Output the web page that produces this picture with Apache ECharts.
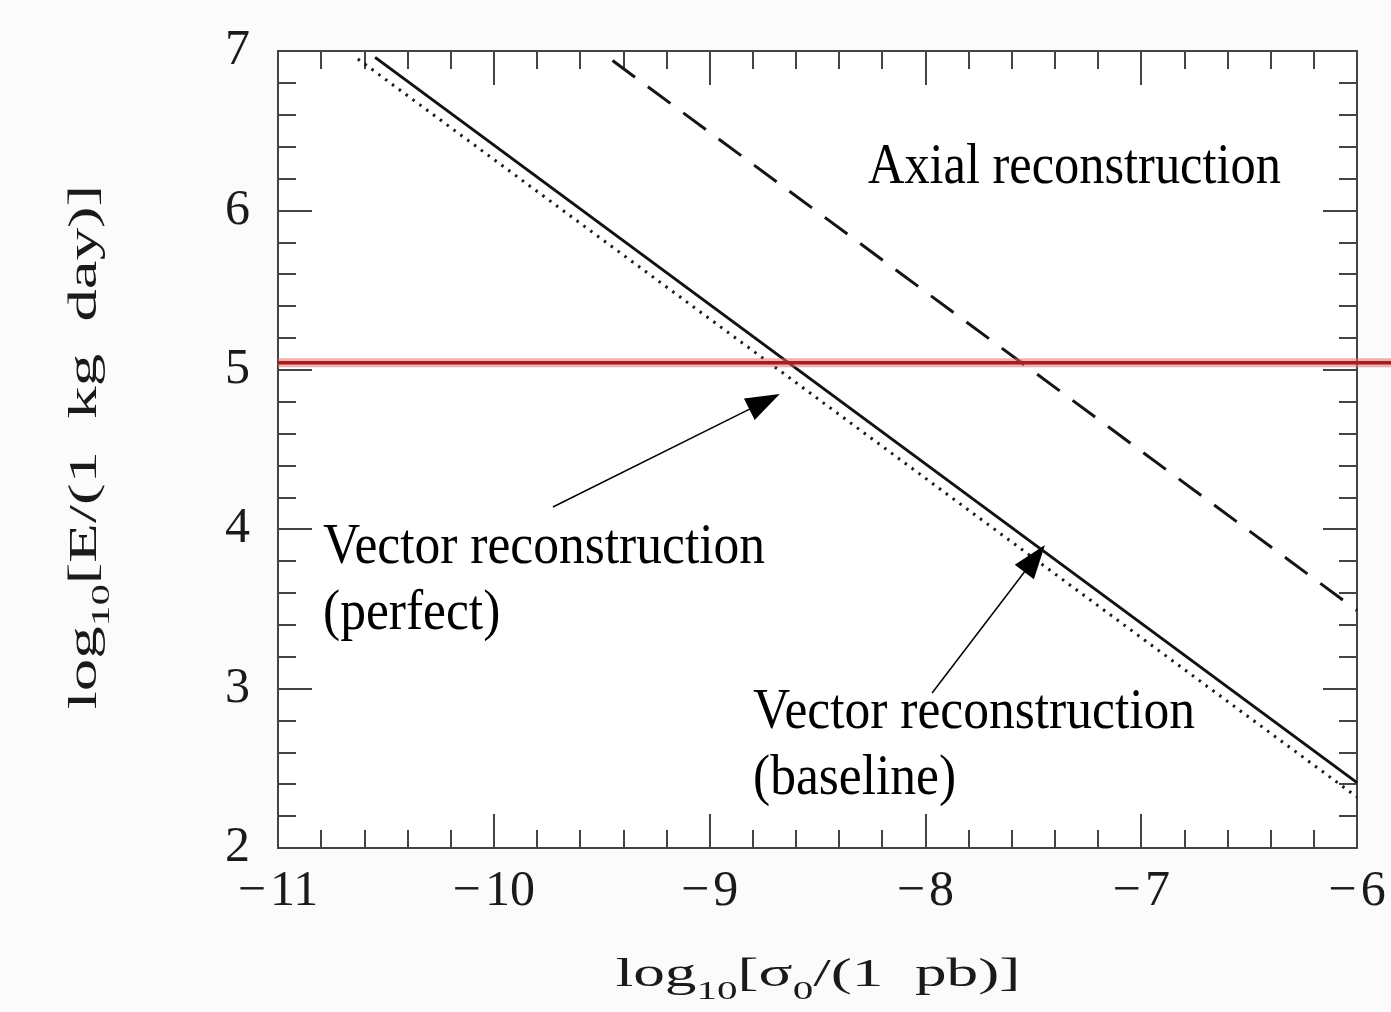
<!DOCTYPE html>
<html>
<head>
<meta charset="utf-8">
<script src="https://cdn.jsdelivr.net/npm/echarts@6/dist/echarts.min.js"></script>
<style>
html,body{margin:0;padding:0;background:#fbfbfb;}
#chart{width:1391px;height:1012px;}
</style>
</head>
<body>
<div id="chart"></div>
<script>
// ---- data (log10 sigma0 [pb], log10 exposure [kg day]) ----
var xTicks = [-11, -10, -9, -8, -7, -6];
var yTicks = [2, 3, 4, 5, 6, 7];
var vectorBaseline = [[-10.55, 6.96], [-6.0, 2.41]];   // solid
var vectorPerfect  = [[-10.63, 6.95], [-6.0, 2.32]];   // dotted
var axialRecon     = [[-9.45, 6.94], [-6.0, 3.49]];    // dashed
var exposureLevel  = 5.045;                            // red horizontal line
var exposureFrom   = -11;
var exposureTo     = -5.84;
// arrows: [tailX, tailY, tipX, tipY]
var arrowPerfect   = [-9.726, 4.139, -8.675, 4.848];
var arrowBaseline  = [-7.969, 2.972, -7.446, 3.901];

var axisColor = '#444';
var serif = '"Liberation Serif", "Times New Roman", serif';

function fmt(v){ return v < 0 ? '\u2212\u200A' + Math.abs(v) : String(v); }

var chart = echarts.init(document.getElementById('chart'), null, {renderer:'canvas'});

function xAx(pos, showLabel){
  return {
    type:'value', position:pos, min:xTicks[0], max:xTicks[xTicks.length-1], interval:1,
    axisLine:{show:true, onZero:false, lineStyle:{color:axisColor, width:2}},
    axisTick:{show:true, inside:true, length:34, lineStyle:{color:axisColor, width:2}},
    minorTick:{show:true, splitNumber:5, length:18, lineStyle:{color:axisColor, width:2}},
    splitLine:{show:false}, minorSplitLine:{show:false},
    axisLabel:{show:showLabel, formatter:fmt, fontFamily:serif, fontSize:50, color:'#1a1a1a', margin:19}
  };
}
function yAx(pos, showLabel){
  return {
    type:'value', position:pos, min:yTicks[0], max:yTicks[yTicks.length-1], interval:1,
    axisLine:{show:true, onZero:false, lineStyle:{color:axisColor, width:2}},
    axisTick:{show:true, inside:true, length:34, lineStyle:{color:axisColor, width:2}},
    minorTick:{show:true, splitNumber:5, length:18, lineStyle:{color:axisColor, width:2}},
    splitLine:{show:false}, minorSplitLine:{show:false},
    axisLabel:{show:showLabel, formatter:fmt, fontFamily:serif, fontSize:50, color:'#1a1a1a', margin:28}
  };
}

function renderArrow(params, api){
  var p1 = api.coord([api.value(0), api.value(1)]);
  var p2 = api.coord([api.value(2), api.value(3)]);
  var dx = p2[0]-p1[0], dy = p2[1]-p1[1];
  var L = Math.sqrt(dx*dx+dy*dy); var ux = dx/L, uy = dy/L;
  var hl = 34, hw = 12;
  var bx = p2[0]-ux*hl, by = p2[1]-uy*hl;
  return {type:'group', children:[
    {type:'line', shape:{x1:p1[0], y1:p1[1], x2:bx+ux*2, y2:by+uy*2}, style:{stroke:'#000', lineWidth:1.5}},
    {type:'polygon', shape:{points:[[p2[0],p2[1]], [bx-uy*hw, by+ux*hw], [bx+uy*hw, by-ux*hw]]}, style:{fill:'#000'}}
  ]};
}
function renderRule(params, api){
  var p1 = api.coord([api.value(0), api.value(1)]);
  var p2 = api.coord([api.value(2), api.value(3)]);
  return {type:'group', children:[
    {type:'line', shape:{x1:p1[0], y1:p1[1], x2:p2[0], y2:p2[1]},
     style:{stroke:'rgba(235,110,110,0.55)', lineWidth:9}},
    {type:'line', shape:{x1:p1[0], y1:p1[1], x2:p2[0], y2:p2[1]},
     style:{stroke:'#9e2020', lineWidth:3.5}}
  ]};
}

var option = {
  backgroundColor:'#fbfbfb',
  animation:false,
  grid:{left:278, right:34, top:51, bottom:164, show:true, backgroundColor:'#ffffff', borderWidth:0},
  xAxis:[xAx('bottom', true), xAx('top', false)],
  yAxis:[yAx('left', true), yAx('right', false)],
  series:[
    {type:'line', name:'Vector reconstruction (baseline)', data:vectorBaseline, symbol:'none',
     lineStyle:{color:'#111', width:3}, z:3},
    {type:'line', name:'Vector reconstruction (perfect)', data:vectorPerfect, symbol:'none',
     lineStyle:{color:'#1a1a1a', width:3, type:[2.5,6]}, z:3},
    {type:'line', name:'Axial reconstruction', data:axialRecon, symbol:'none',
     lineStyle:{color:'#151515', width:3, type:[28,16]}, z:3},
    {type:'custom', name:'Exposure', clip:false, z:4, silent:true,
     data:[[exposureFrom, exposureLevel, exposureTo, exposureLevel]],
     encode:{x:[0,2], y:[1,3]}, renderItem:renderRule},
    {type:'custom', name:'Arrows', clip:false, z:5, silent:true,
     data:[arrowPerfect, arrowBaseline],
     encode:{x:[0,2], y:[1,3]}, renderItem:renderArrow}
  ],
  graphic:[
    {type:'text', x:868, y:168, scaleX:0.9, z:10,
     style:{text:'Axial reconstruction', fontFamily:serif, fontSize:56, fill:'#000', verticalAlign:'middle'}},
    {type:'text', x:323, y:548, scaleX:0.92, z:10,
     style:{text:'Vector reconstruction', fontFamily:serif, fontSize:56, fill:'#000', verticalAlign:'middle'}},
    {type:'text', x:323, y:614, scaleX:0.92, z:10,
     style:{text:'(perfect)', fontFamily:serif, fontSize:56, fill:'#000', verticalAlign:'middle'}},
    {type:'text', x:753, y:713, scaleX:0.92, z:10,
     style:{text:'Vector reconstruction', fontFamily:serif, fontSize:56, fill:'#000', verticalAlign:'middle'}},
    {type:'text', x:753, y:779, scaleX:0.92, z:10,
     style:{text:'(baseline)', fontFamily:serif, fontSize:56, fill:'#000', verticalAlign:'middle'}},
    {type:'text', x:818, y:975, scaleX:1.58, z:10,
     style:{text:'{a|log}{s|10}{a|[}{a|\u03c3}{s|0}{a|/(1  pb)]}', align:'center', verticalAlign:'middle',
       rich:{a:{fontFamily:serif, fontSize:40, lineHeight:60, verticalAlign:'middle', fill:'#1a1a1a'},
             s:{fontFamily:serif, fontSize:26, lineHeight:26, verticalAlign:'bottom', fill:'#1a1a1a'}}}},
    {type:'text', x:85, y:447, rotation:Math.PI/2, scaleX:1.62, z:10,
     style:{text:'{a|log}{s|10}{a|[E/(1  kg  day)]}', align:'center', verticalAlign:'middle',
       rich:{a:{fontFamily:serif, fontSize:40, lineHeight:60, verticalAlign:'middle', fill:'#1a1a1a'},
             s:{fontFamily:serif, fontSize:26, lineHeight:26, verticalAlign:'bottom', fill:'#1a1a1a'}}}}
  ]
};
chart.setOption(option);
</script>
</body>
</html>
